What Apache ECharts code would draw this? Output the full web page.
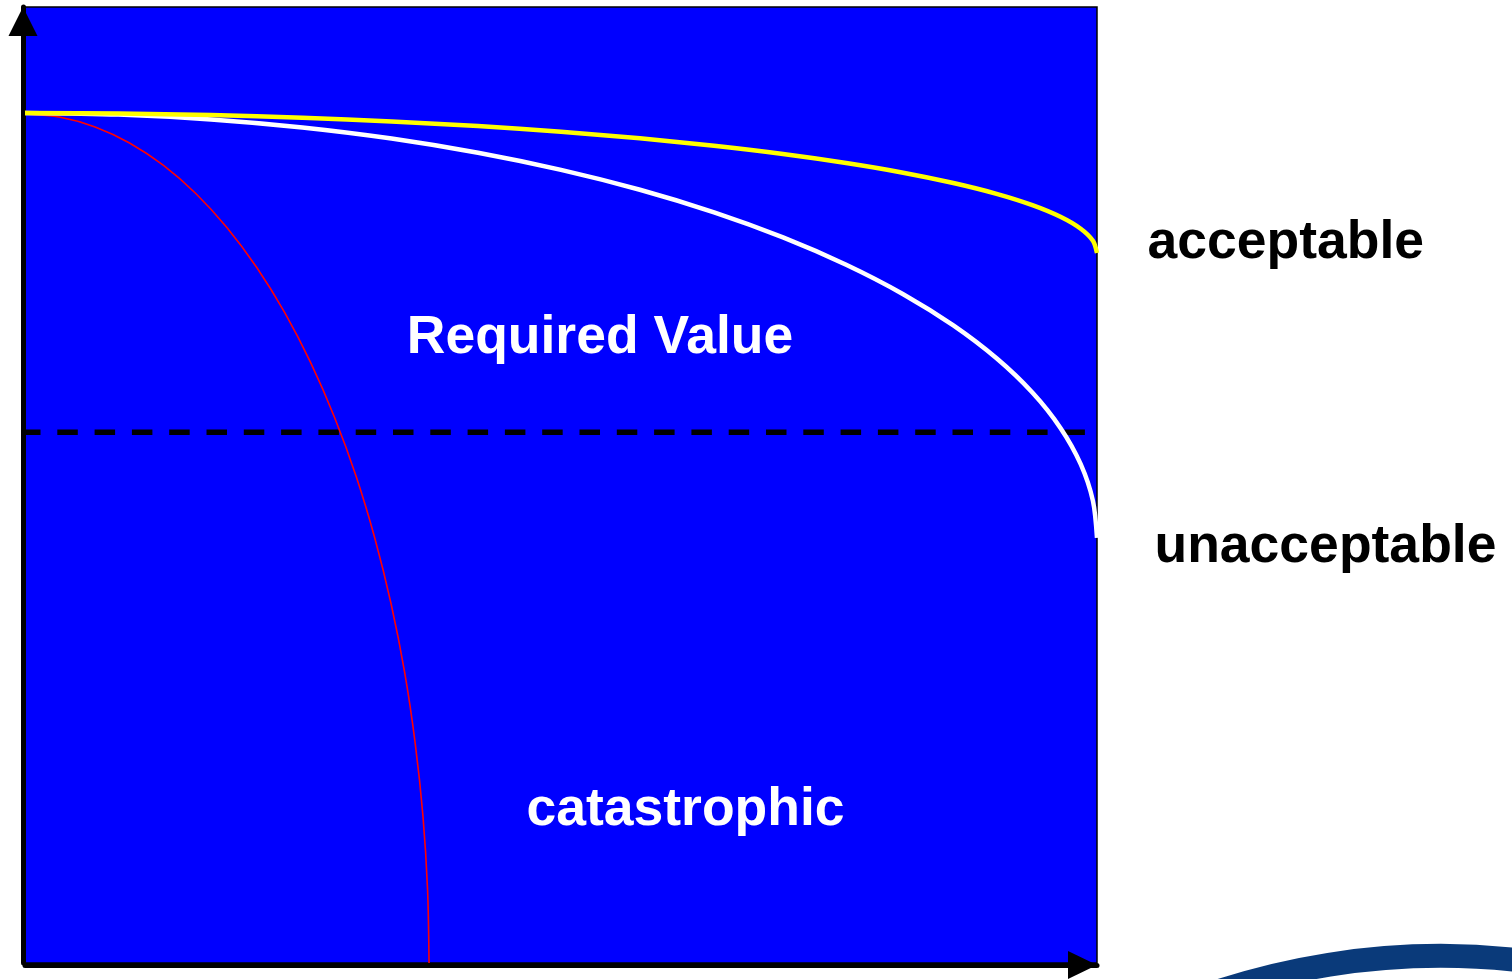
<!DOCTYPE html>
<html>
<head>
<meta charset="utf-8">
<script src="https://cdn.jsdelivr.net/npm/echarts@6/dist/echarts.min.js"></script>
<style>
html,body{margin:0;padding:0;background:#fff;}
#c{width:1512px;height:979px;}
</style>
</head>
<body>
<div id="c"></div>
<script>
// Curve values (x: 0..100 across, y: 0..100 up)
var acceptableX = [0, 8.72, 17.36, 25.88, 34.20, 42.26, 50.00, 57.36, 64.28, 70.71, 76.60, 81.92, 86.60, 90.63, 93.97, 96.59, 98.48, 99.62, 100];
var acceptableY = [88.91, 88.85, 88.69, 88.41, 88.03, 87.54, 86.95, 86.26, 85.48, 84.62, 83.68, 82.67, 81.59, 80.46, 79.28, 78.06, 76.81, 75.55, 74.27];

var unacceptableX = [0, 8.72, 17.36, 25.88, 34.20, 42.26, 50.00, 57.36, 64.28, 70.71, 76.60, 81.92, 86.60, 90.63, 93.97, 96.59, 98.48, 99.62, 100];
var unacceptableY = [88.92, 88.75, 88.24, 87.40, 86.24, 84.75, 82.96, 80.88, 78.52, 75.90, 73.04, 69.96, 66.69, 63.25, 59.67, 55.97, 52.18, 48.34, 44.46];

var catastrophicX = [0, 3.29, 6.54, 9.75, 12.89, 15.93, 18.85, 21.62, 24.23, 26.65, 28.87, 30.88, 32.64, 34.16, 35.42, 36.40, 37.12, 37.55, 37.69];
var catastrophicY = [88.81, 88.47, 87.46, 85.78, 83.45, 80.49, 76.91, 72.75, 68.03, 62.80, 57.09, 50.94, 44.41, 37.53, 30.37, 22.98, 15.42, 7.74, 0];

var requiredX = [0, 100];
var requiredY = [55.51, 55.51];

var labelTexts = ['Required Value', 'catastrophic', 'acceptable', 'unacceptable'];

function pairs(xs, ys) {
  return xs.map(function (x, i) { return [x, ys[i]]; });
}

var chart = echarts.init(document.getElementById('c'), null, {renderer: 'canvas'});
var font = '"Liberation Sans", Arial, sans-serif';

chart.setOption({
  animation: false,
  grid: {
    left: 25, top: 7, right: 415, bottom: 16,
    show: true,
    backgroundColor: '#0000FF',
    borderColor: '#000000',
    borderWidth: 1.5
  },
  xAxis: {
    type: 'value', min: 0, max: 100,
    offset: 2,
    axisLabel: {show: false}, axisTick: {show: false}, splitLine: {show: false},
    axisLine: {
      show: true, onZero: false,
      symbol: ['none', 'triangle'],
      symbolSize: [28, 29],
      symbolOffset: [0, -14.5],
      lineStyle: {color: '#000', width: 5}
    }
  },
  yAxis: {
    type: 'value', min: 0, max: 100,
    offset: 2,
    axisLabel: {show: false}, axisTick: {show: false}, splitLine: {show: false},
    axisLine: {
      show: true, onZero: false,
      symbol: ['none', 'triangle'],
      symbolSize: [29, 29],
      symbolOffset: [0, -14.5],
      lineStyle: {color: '#000', width: 5}
    }
  },
  series: [
    {
      name: 'required', type: 'line', data: pairs(requiredX, requiredY),
      symbol: 'none', silent: true, z: 3,
      lineStyle: {color: '#000', width: 5.5, type: [20.5, 16.8], dashOffset: 5}
    },
    {
      name: 'catastrophic', type: 'line', data: pairs(catastrophicX, catastrophicY),
      symbol: 'none', smooth: 0.3, silent: true, z: 4,
      lineStyle: {color: '#FF0000', width: 1.6}
    },
    {
      name: 'unacceptable', type: 'line', data: pairs(unacceptableX, unacceptableY),
      symbol: 'none', smooth: 0.3, silent: true, z: 5,
      lineStyle: {color: '#FFFFFF', width: 4.5}
    },
    {
      name: 'acceptable', type: 'line', data: pairs(acceptableX, acceptableY),
      symbol: 'none', smooth: 0.3, silent: true, z: 6,
      lineStyle: {color: '#FFFF00', width: 4.5}
    }
  ],
  graphic: [
    {type: 'text', x: 600, y: 338, z: 100,
     style: {text: labelTexts[0], fill: '#fff', font: 'bold 53.5px ' + font, align: 'center', verticalAlign: 'middle'}},
    {type: 'text', x: 685.5, y: 810.5, z: 100,
     style: {text: labelTexts[1], fill: '#fff', font: 'bold 53.5px ' + font, align: 'center', verticalAlign: 'middle'}},
    {type: 'text', x: 1147.5, y: 243, z: 100,
     style: {text: labelTexts[2], fill: '#000', font: 'bold 53.5px ' + font, align: 'left', verticalAlign: 'middle'}},
    {type: 'text', x: 1154.5, y: 547, z: 100,
     style: {text: labelTexts[3], fill: '#000', font: 'bold 53.5px ' + font, align: 'left', verticalAlign: 'middle'}},
    {type: 'arc', z: 1, silent: true,
     shape: {cx: 1440, cy: 1665, r: 709, startAngle: Math.PI * 1.2, endAngle: Math.PI * 1.8},
     style: {stroke: '#0A3A7A', lineWidth: 24, fill: null}}
  ]
});
</script>
</body>
</html>
